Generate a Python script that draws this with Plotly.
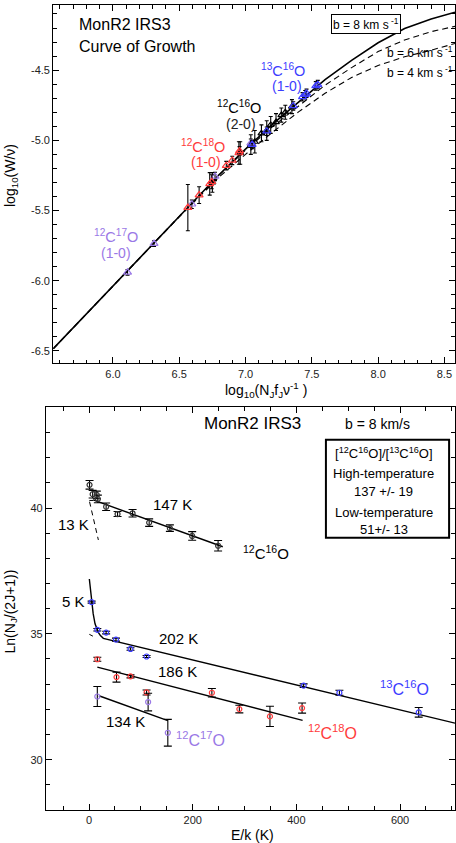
import plotly.graph_objects as go

FONT = "Liberation Sans, Arial, Helvetica, sans-serif"
BLUE = "#3c3cff"
RED = "#ff3b3b"
PURPLE = "#9a78e6"
BLACK = "#000000"

# ---------------- Top panel: curve of growth ----------------
cog_x = [5.55, 6.00, 6.50, 6.80, 7.00, 7.20, 7.40, 7.60, 7.80, 8.00, 8.20, 8.40, 8.58]
cog_b8 = [-6.484, -6.036, -5.540, -5.245, -5.062, -4.888, -4.727, -4.568, -4.430, -4.305, -4.203, -4.135, -4.087]
cog_b6 = [-6.484, -6.036, -5.541, -5.248, -5.070, -4.905, -4.755, -4.607, -4.482, -4.368, -4.285, -4.226, -4.188]
cog_b4 = [-6.484, -6.036, -5.545, -5.262, -5.100, -4.945, -4.797, -4.665, -4.552, -4.467, -4.405, -4.358, -4.310]

top_c17_x = [6.11, 6.31, 6.595, 6.77, 7.04]
top_c17_y = [-5.94, -5.735, -5.455, -5.257, -5.02]
top_c17_e = [0.02, 0.02, 0.03, 0.03, 0.03]

top_c18_x = [6.565, 6.65, 6.73, 6.745, 6.855, 6.90, 6.95, 6.955]
top_c18_y = [-5.479, -5.39, -5.31, -5.295, -5.18, -5.143, -5.09, -5.075]
top_c18_e = [0.165, 0.06, 0.08, 0.05, 0.03, 0.03, 0.08, 0.03]

top_c16_x = [6.75, 6.96, 7.04, 7.07, 7.12, 7.16, 7.19, 7.23, 7.27, 7.30, 7.35]
top_c16_y = [-5.30, -5.09, -5.03, -5.01, -4.95, -4.93, -4.89, -4.87, -4.82, -4.80, -4.76]
top_c16_e = [0.07, 0.08, 0.07, 0.08, 0.06, 0.07, 0.06, 0.06, 0.05, 0.05, 0.05]

top_c13_x = [7.05, 7.16, 7.36, 7.43, 7.45, 7.46, 7.53, 7.545]
top_c13_y = [-5.03, -4.935, -4.755, -4.69, -4.675, -4.665, -4.612, -4.603]
top_c13_e = [0.03, 0.03, 0.03, 0.03, 0.03, 0.03, 0.03, 0.03]

top_xticks = [6.0, 6.5, 7.0, 7.5, 8.0, 8.5]
top_xticktext = ["6.0", "6.5", "7.0", "7.5", "8.0", "8.5"]
top_yticks = [-6.5, -6.0, -5.5, -5.0, -4.5]
top_yticktext = ["-6.5", "-6.0", "-5.5", "-5.0", "-4.5"]

# ---------------- Bottom panel: rotation diagram ----------------
co_E = [1, 7, 15, 17, 33, 55, 84, 116, 156, 199, 249]
co_L = [40.92, 40.55, 40.52, 40.36, 40.05, 39.76, 39.79, 39.42, 39.20, 38.89, 38.50]
co_err = [0.17, 0.15, 0.15, 0.15, 0.15, 0.10, 0.15, 0.15, 0.13, 0.17, 0.21]

c13_E = [5, 16, 33, 52, 80, 111, 414, 483, 636]
c13_L = [36.26, 35.16, 35.05, 34.77, 34.40, 34.10, 32.94, 32.66, 31.88]
c13_err = [0.04, 0.05, 0.05, 0.06, 0.05, 0.04, 0.07, 0.10, 0.19]

c18_E = [16, 53, 80, 111, 237, 290, 349, 411]
c18_L = [33.99, 33.28, 33.31, 32.67, 32.66, 32.01, 31.72, 32.05]
c18_err = [0.08, 0.20, 0.06, 0.10, 0.17, 0.15, 0.40, 0.20]

c17_E = [16, 114, 152]
c17_L = [32.51, 32.29, 31.07]
c17_err = [0.40, 0.35, 0.53]

fit147_E = [8, 258]
fit147_L = [40.32, 38.46]
ext147_E = [0.6, 8]
ext147_L = [40.30, 40.30]
fit13_E = [1, 18]
fit13_L = [40.25, 38.73]
fit202_E = [0.6, 5.2, 8, 11.6, 14.5, 17.9, 22, 27.6, 706]
fit202_L = [37.18, 36.25, 35.80, 35.40, 35.20, 35.06, 34.93, 34.82, 31.45]
ext202_E = [0.6, 12]
ext202_L = [34.98, 34.86]
fit186_E = [16, 412]
fit186_L = [33.68, 31.56]
fit134_E = [19, 152]
fit134_L = [32.54, 31.55]

bot_xticks = [0, 200, 400, 600]
bot_yticks = [30, 35, 40]

fig = go.Figure()

def line(x, y, xa, ya, dash="solid", width=1.4):
    fig.add_trace(go.Scatter(x=x, y=y, mode="lines", xaxis=xa, yaxis=ya,
                             line=dict(color=BLACK, width=width, dash=dash),
                             showlegend=False, hoverinfo="skip"))

def pts(x, y, e, color, symbol, size, xa, ya, cap):
    fig.add_trace(go.Scatter(x=x, y=y, mode="markers", xaxis=xa, yaxis=ya,
                             marker=dict(symbol=symbol, size=size, color=color,
                                         line=dict(color=color, width=1.2)),
                             error_y=dict(type="data", array=e, color=BLACK,
                                          thickness=1.1, width=cap),
                             showlegend=False))

# top curves
line(cog_x, cog_b8, "x", "y", "solid", 1.6)
line(cog_x, cog_b6, "x", "y", "6px,4px", 1.1)
line(cog_x, cog_b4, "x", "y", "6px,4px", 1.1)
# top points
pts(top_c16_x, top_c16_y, top_c16_e, BLACK, "triangle-up-open", 6, "x", "y", 2)
pts(top_c17_x, top_c17_y, top_c17_e, PURPLE, "triangle-up-open", 7, "x", "y", 2)
pts(top_c18_x, top_c18_y, top_c18_e, RED, "triangle-up-open", 7, "x", "y", 2)
pts(top_c13_x, top_c13_y, top_c13_e, BLUE, "triangle-up-open", 7, "x", "y", 2)

# bottom lines
line(fit147_E, fit147_L, "x2", "y2")
line(ext147_E, ext147_L, "x2", "y2", "4px,3px", 1.0)
line(fit13_E, fit13_L, "x2", "y2", "5px,4px", 1.0)
line(fit202_E, fit202_L, "x2", "y2")
line(ext202_E, ext202_L, "x2", "y2", "4px,3px", 1.0)
line(fit186_E, fit186_L, "x2", "y2")
line(fit134_E, fit134_L, "x2", "y2")
# bottom points
pts(co_E, co_L, co_err, "#333333", "circle-open", 5, "x2", "y2", 4)
pts(c13_E, c13_L, c13_err, BLUE, "circle-open", 5, "x2", "y2", 4)
pts(c18_E, c18_L, c18_err, RED, "circle-open", 5, "x2", "y2", 4)
pts(c17_E, c17_L, c17_err, PURPLE, "circle-open", 5, "x2", "y2", 4)

axis_common = dict(showline=True, linecolor=BLACK, linewidth=1.2, mirror="allticks",
                   ticks="inside", ticklen=6, tickcolor=BLACK, tickwidth=1,
                   showgrid=False, zeroline=False,
                   tickfont=dict(family=FONT, size=11, color="#222222"))

fig.update_layout(
    width=456, height=843,
    margin=dict(l=46, r=1, t=5, b=33),
    paper_bgcolor="white", plot_bgcolor="white",
    font=dict(family=FONT, color=BLACK),
    showlegend=False,
    xaxis=dict(domain=[0.0178, 1], anchor="y", range=[5.55, 8.58],
               tickvals=top_xticks, ticktext=top_xticktext,
               minor=dict(dtick=0.1, tick0=5.5, ticks="inside", ticklen=3.5, tickcolor=BLACK),
               **axis_common),
    yaxis=dict(domain=[0.5549, 1], anchor="x", range=[-6.588, -4.036],
               tickvals=top_yticks, ticktext=top_yticktext,
               minor=dict(dtick=0.1, tick0=-6.5, ticks="inside", ticklen=3.5, tickcolor=BLACK),
               **axis_common),
    xaxis2=dict(domain=[0, 1], anchor="y2", range=[-83, 706],
                tickvals=bot_xticks,
                minor=dict(dtick=50, tick0=0, ticks="inside", ticklen=3.5, tickcolor=BLACK),
                **axis_common),
    yaxis2=dict(domain=[0, 0.5002], anchor="x2", range=[28, 44],
                tickvals=bot_yticks,
                minor=dict(dtick=1, tick0=28, ticks="inside", ticklen=3.5, tickcolor=BLACK),
                **axis_common),
)

ann = []
def A(text, x, y, xref, yref, size, color=BLACK, xanchor="center", **kw):
    ann.append(dict(text=text, x=x, y=y, xref=xref, yref=yref, showarrow=False,
                    xanchor=xanchor, yanchor="middle",
                    font=dict(family=FONT, size=size, color=color), **kw))

# top texts
A("MonR2 IRS3", 5.729, -4.178, "x", "y", 16, xanchor="left")
A("Curve of Growth", 5.729, -4.332, "x", "y", 16, xanchor="left")
A("b = 8 km s<sup> -1</sup>", 7.906, -4.174, "x", "y", 12,
  bordercolor=BLACK, borderwidth=1, borderpad=1, bgcolor="white")
A("b = 6 km s<sup> -1</sup>", 8.053, -4.37, "x", "y", 12, xanchor="left")
A("b = 4 km s<sup> -1</sup>", 8.053, -4.51, "x", "y", 12, xanchor="left")
A("<sup>13</sup>C<sup>16</sup>O", 7.286, -4.502, "x", "y", 14.5, BLUE)
A("(1-0)", 7.316, -4.615, "x", "y", 14, BLUE)
A("<sup>12</sup>C<sup>16</sup>O", 6.951, -4.763, "x", "y", 14.5, BLACK)
A("(2-0)", 6.966, -4.882, "x", "y", 14, "#222222")
A("<sup>12</sup>C<sup>18</sup>O", 6.677, -5.038, "x", "y", 14.5, RED)
A("(1-0)", 6.699, -5.155, "x", "y", 14, RED)
A("<sup>12</sup>C<sup>17</sup>O", 6.023, -5.678, "x", "y", 14.5, PURPLE)
A("(1-0)", 6.023, -5.80, "x", "y", 14, PURPLE)
A("log<sub>10</sub>(W/ν)", -0.0856, 0.7888, "paper", "paper", 14, textangle=-90)
A("log<sub>10</sub>(N<sub>J</sub>f<sub>J</sub>ν<sup>-1</sup> )", 0.5379, 0.5217, "paper", "paper", 14)

# bottom texts
A("MonR2 IRS3", 315.5, 43.35, "x2", "y2", 17)
A("b = 8 km/s", 556.6, 43.35, "x2", "y2", 14)
A("[<sup>12</sup>C<sup>16</sup>O]/[<sup>13</sup>C<sup>16</sup>O]", 569, 42.17, "x2", "y2", 13)
A("High-temperature", 569, 41.37, "x2", "y2", 13)
A("137 +/- 19", 569, 40.66, "x2", "y2", 13)
A("Low-temperature", 569, 39.83, "x2", "y2", 13)
A("51+/- 13", 569, 39.13, "x2", "y2", 13)
A("147 K", 161, 40.12, "x2", "y2", 15)
A("13 K", -30, 39.33, "x2", "y2", 15)
A("<sup>12</sup>C<sup>16</sup>O", 341.5, 38.24, "x2", "y2", 15)
A("5 K", -30, 36.28, "x2", "y2", 15)
A("202 K", 171.7, 34.80, "x2", "y2", 15)
A("186 K", 169.8, 33.50, "x2", "y2", 15)
A("134 K", 69.5, 31.52, "x2", "y2", 15)
A("<sup>12</sup>C<sup>17</sup>O", 215, 30.83, "x2", "y2", 16, PURPLE)
A("<sup>12</sup>C<sup>18</sup>O", 469.8, 31.10, "x2", "y2", 16, RED)
A("<sup>13</sup>C<sup>16</sup>O", 608.7, 32.86, "x2", "y2", 16, BLUE)
A("Ln(N<sub>J</sub>/(2J+1))", -0.0856, 0.2466, "paper", "paper", 14, textangle=-90)
A("E/k (K)", 0.5049, -0.031, "paper", "paper", 14)

fig.update_layout(annotations=ann)
fig.add_shape(type="rect", xref="x2", yref="y2", x0=457, x1=694.6, y0=38.82, y1=42.71,
              line=dict(color=BLACK, width=2), fillcolor="rgba(0,0,0,0)")

fig.write_html("out.html", config={"displayModeBar": False},
               post_script="document.body.style.margin='0';document.body.style.overflow='hidden';")
